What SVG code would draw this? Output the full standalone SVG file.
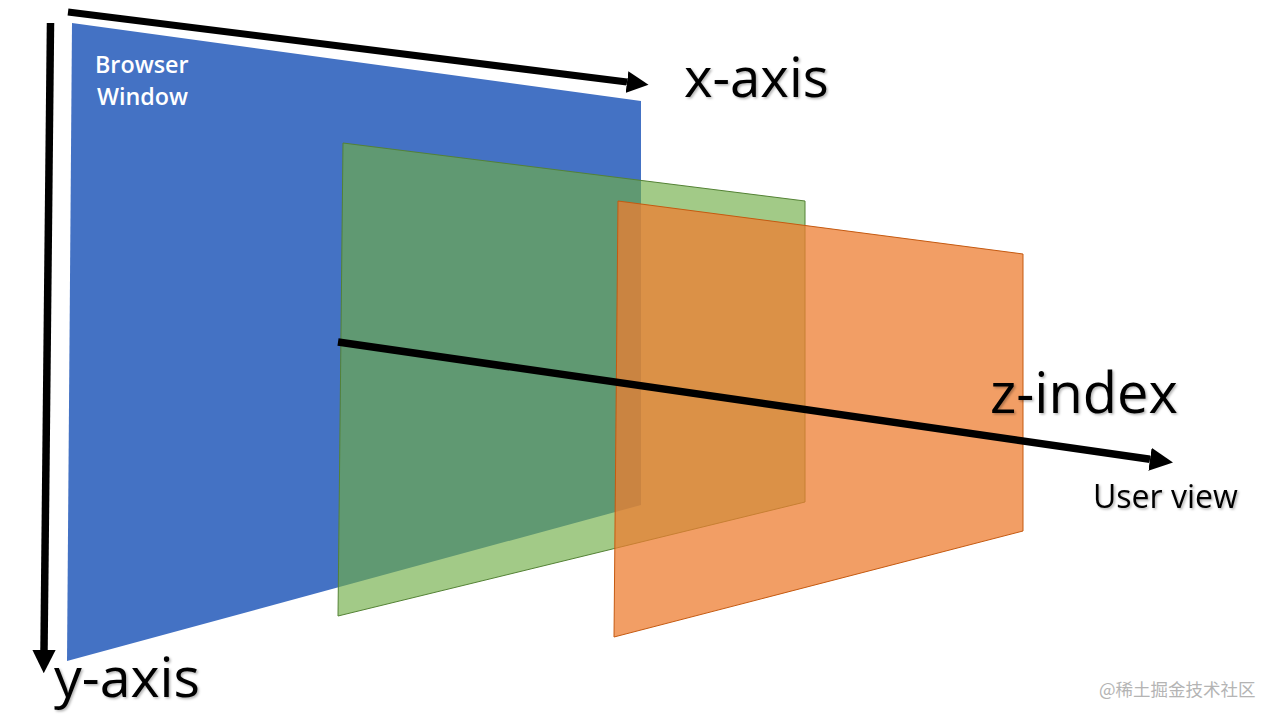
<svg xmlns="http://www.w3.org/2000/svg" width="1280" height="720" viewBox="0 0 1280 720">
<style>
.lbl{font-family:"Open Sans","Noto Sans",sans-serif;fill:#000;filter:url(#sh)}
.axis{stroke:#000;fill:none;stroke-linecap:butt}
.bw{font-family:"Open Sans","Noto Sans",sans-serif;font-weight:600;font-size:23.3px;fill:#fff}
</style>
<defs>
<filter id="sh" x="-10%" y="-10%" width="130%" height="140%">
<feDropShadow dx="1.5" dy="1.5" stdDeviation="1.2" flood-color="#000" flood-opacity="0.3"/>
</filter>
<marker id="ah" viewBox="0 0 10 10" refX="0" refY="5" markerWidth="3.1" markerHeight="3.2" orient="auto" markerUnits="strokeWidth">
<path d="M0,0 L10,5 L0,10 z" fill="#000"/>
</marker>
</defs>
<rect width="1280" height="720" fill="#fff"/>
<g id="browser-window">
<polygon points="72,23 641,101 641,505 67,661" fill="#4472C4"/>
<text class="bw" x="95" y="73">Browser</text>
<text class="bw" x="97" y="105">Window</text>
</g>
<g id="green-layer">
<polygon points="343,143 805,201 805,502 338,616" fill="#70AD47" fill-opacity="0.65" stroke="#548235" stroke-width="1"/>
</g>
<g id="orange-layer">
<polygon points="618,201 1023,254 1023,531 614,637" fill="#ED7D31" fill-opacity="0.75" stroke="#C55A11" stroke-width="1"/>
</g>
<g id="connectors">
<line class="axis" x1="68" y1="12" x2="627" y2="82" stroke-width="7" marker-end="url(#ah)"/>
<line class="axis" x1="50.5" y1="23" x2="44" y2="650" stroke-width="7.5" marker-end="url(#ah)"/>
<line class="axis" x1="338" y1="342" x2="1150" y2="459.3" stroke-width="7.5" marker-end="url(#ah)"/>
</g>
<g id="labels">
<text class="lbl" x="684" y="97" font-size="54.5">x-axis</text>
<text class="lbl" x="54" y="697" font-size="55.5">y-axis</text>
<text class="lbl" x="990" y="413" font-size="56">z-index</text>
<text class="lbl" x="1093" y="508" font-size="32">User view</text>
</g>
<text x="1099" y="696" font-family="Noto Sans CJK SC,Noto Sans,sans-serif" font-size="17.5" fill="#b4b4b4">@稀土掘金技术社区</text>
</svg>
